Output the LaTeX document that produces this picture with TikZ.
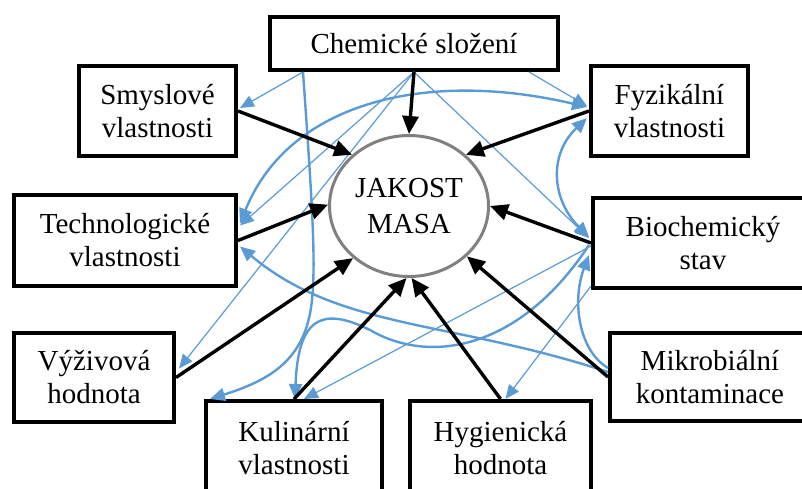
\documentclass[tikz,border=0pt]{standalone}
\usepackage{fontspec}
\setmainfont{Liberation Serif}
\usetikzlibrary{arrows.meta,calc,shapes.geometric}
\definecolor{lblue}{RGB}{91,155,213}
\definecolor{egray}{RGB}{128,128,128}
\begin{document}
\begin{tikzpicture}[x=0.5pt,y=-0.5pt,
  box/.style={draw=black, line width=2pt, fill=white, align=center, inner sep=0pt,
    font=\fontsize{14.5pt}{16.5pt}\selectfont},
  blk/.style={line width=1.7pt, -{Triangle[length=9pt,width=8pt]}},
  thinb/.style={color=lblue, line width=0.6pt, -{Triangle[length=7pt,width=6pt]}},
  medb/.style={color=lblue, line width=1.2pt, -{Triangle[length=7.5pt,width=6.5pt]}},
  medbb/.style={color=lblue, line width=1.2pt, {Triangle[length=7.5pt,width=6.5pt]}-{Triangle[length=7.5pt,width=6.5pt]}},
]
\useasboundingbox (0,0) rectangle (802,488);
\clip (0,0) rectangle (802,488);

\node[box, minimum width=144pt, minimum height=26.5pt] (chem) at (414,43.5) {Chemické složení};
\node[box, minimum width=78.5pt, minimum height=45pt] (smy) at (157.5,111) {Smyslové\\vlastnosti};
\node[box, minimum width=78.5pt, minimum height=45pt] (fyz) at (669.5,111) {Fyzikální\\vlastnosti};
\node[box, minimum width=111pt, minimum height=45.5pt] (tech) at (125,240.5) {Technologické\\vlastnosti};
\node[box, minimum width=110pt, minimum height=45pt] (bio) at (703,243) {Biochemický\\stav};
\node[box, minimum width=80pt, minimum height=44.5pt] (vyz) at (94,377.5) {Výživová\\hodnota};
\node[box, minimum width=88pt, minimum height=47pt] (kul) at (294,448) {Kulinární\\vlastnosti};
\node[box, minimum width=90.5pt, minimum height=47pt] (hyg) at (500.5,448) {Hygienická\\hodnota};
\node[box, minimum width=100pt, minimum height=44pt] (mik) at (710,377) {Mikrobiální\\kontaminace};
\node[draw=egray, line width=1.5pt, ellipse, fill=white, minimum width=79.5pt, minimum height=70.5pt,
  inner sep=0pt, align=center, font=\fontsize{14.5pt}{18pt}\selectfont] (J) at (409,206) {JAKOST\\MASA};

% thin blue connectors
\draw[thinb] ($(chem.south west)+(35,0)$) -- ($(smy.east)+(2,-3)$);
\draw[thinb] (chem.south) -- ($(tech.east)+(2,-15)$);
\draw[thinb] (chem.south) -- ($(vyz.east)+(3,-9)$);
\draw[thinb] (chem.south) -- ($(bio.west)+(-2,-5)$);
\draw[thinb] ($(chem.south east)+(-31,0)$) -- ($(fyz.west)+(-2,-5)$);
\draw[thinb] ($(bio.west)+(0,3)$) -- ($(kul.north)+(10,0)$);
\draw[thinb] ($(bio.south west)+(0,-4)$) -- ($(hyg.north)+(5,0)$);

% medium blue connectors
\draw[medbb] ($(tech.east)+(2,-17)$) .. controls (290,100) and (430,70) .. ($(fyz.west)+(-2,-4)$);
\draw[medbb] ($(fyz.west)+(-2,7)$) .. controls (548,155) and (552,200) .. ($(bio.west)+(-2,-6)$);
\draw[medb] ($(chem.south west)+(35,0)$) .. controls (312,200) and (316,260) .. (312,300)
  .. controls (306,360) and (270,380) .. ($(kul.north west)+(6,0)$);
\draw[medb] ($(bio.west)+(-2,2)$) .. controls (520,350) and (430,365) .. (370,330)
  .. controls (320,305) and (298,320) .. ($(kul.north)+(1,0)$);
\draw[medb] ($(mik.west)+(0,-5)$) .. controls (450,320) and (340,330) .. ($(tech.east)+(2,6)$);
\draw[medb] ($(mik.west)+(0,-9)$) .. controls (578,350) and (572,300) .. ($(bio.west)+(-2,12)$);

% black arrows to the centre
\draw[blk] (chem.south) -- (J.north);
\draw[blk] (smy.east) -- (J.138);
\draw[blk] (tech.east) -- (J.179);
\draw[blk] (vyz.east) -- (J.223);
\draw[blk] (kul.north) -- (J.268);
\draw[blk] (hyg.north) -- (J.272);
\draw[blk] (mik.west) -- (J.319);
\draw[blk] (bio.west) -- (J.0);
\draw[blk] (fyz.west) -- (J.42);
\end{tikzpicture}
\end{document}
